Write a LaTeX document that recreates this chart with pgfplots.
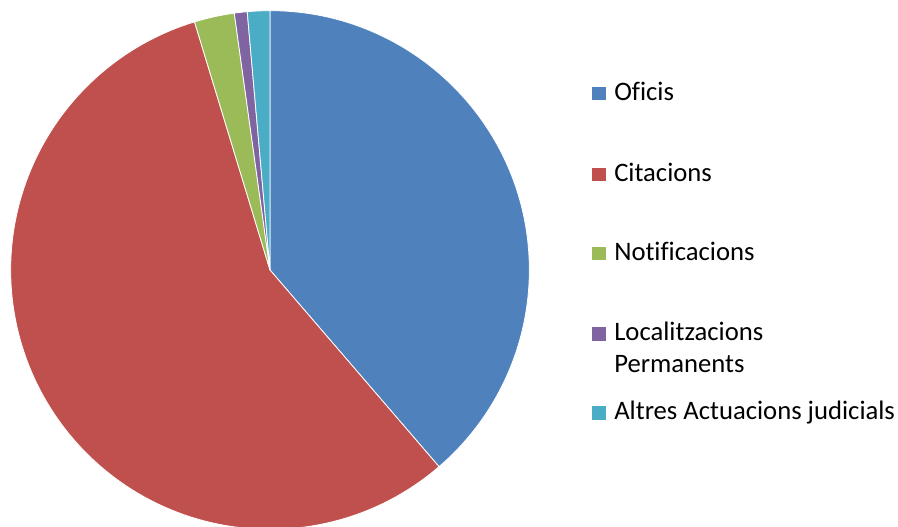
\documentclass[border=0pt]{standalone}
\usepackage{pgfplots}
\pgfplotsset{compat=1.18}
\usepackage{fontspec}
\setmainfont[Ligatures={NoCommon}]{Carlito}
\definecolor{cOficis}{HTML}{4F81BD}
\definecolor{cCitacions}{HTML}{C0504D}
\definecolor{cNotif}{HTML}{9BBB59}
\definecolor{cLocal}{HTML}{8064A2}
\definecolor{cAltres}{HTML}{4BACC6}
% shares (percent) of each category
\def\vA{38.7}% Oficis
\def\vB{56.6}% Citacions
\def\vC{2.5}%  Notificacions
\def\vD{0.8}%  Localitzacions Permanents
\def\vE{1.4}%  Altres Actuacions judicials
\begin{document}
\begin{tikzpicture}
\begin{axis}[
  scale only axis,
  width=673.5pt, height=395.25pt,
  xmin=0, xmax=898, ymin=0, ymax=527,
  hide axis,
  anchor=south west, at={(0,0)},
]
\def\R{194.5pt}
\pgfmathsetmacro\aA{90}
\pgfmathsetmacro\aB{90-3.6*\vA}
\pgfmathsetmacro\aC{\aB-3.6*\vB}
\pgfmathsetmacro\aD{\aC-3.6*\vC}
\pgfmathsetmacro\aE{\aD-3.6*\vD}
\pgfmathsetmacro\aF{\aE-3.6*\vE}
\edef\slices{%
\noexpand\filldraw[fill=cOficis,draw=white,line width=0.6pt] (axis cs:270,257) -- ++(\aA:\R) arc[start angle=\aA, end angle=\aB, radius=\R] -- cycle;
\noexpand\filldraw[fill=cCitacions,draw=white,line width=0.6pt] (axis cs:270,257) -- ++(\aB:\R) arc[start angle=\aB, end angle=\aC, radius=\R] -- cycle;
\noexpand\filldraw[fill=cNotif,draw=white,line width=0.6pt] (axis cs:270,257) -- ++(\aC:\R) arc[start angle=\aC, end angle=\aD, radius=\R] -- cycle;
\noexpand\filldraw[fill=cLocal,draw=white,line width=0.6pt] (axis cs:270,257) -- ++(\aD:\R) arc[start angle=\aD, end angle=\aE, radius=\R] -- cycle;
\noexpand\filldraw[fill=cAltres,draw=white,line width=0.6pt] (axis cs:270,257) -- ++(\aE:\R) arc[start angle=\aE, end angle=\aF, radius=\R] -- cycle;
}
\slices
% legend
\fill[cOficis]    (axis cs:592,{527-100.5}) rectangle (axis cs:606,{527-87});
\fill[cCitacions] (axis cs:592,{527-181.5}) rectangle (axis cs:606,{527-168});
\fill[cNotif]     (axis cs:592,{527-260.5}) rectangle (axis cs:606,{527-247});
\fill[cLocal]     (axis cs:592,{527-341})   rectangle (axis cs:606,{527-327.5});
\fill[cAltres]    (axis cs:592,{527-420})   rectangle (axis cs:606,{527-406.5});
\begin{scope}[every node/.style={anchor=base west, inner sep=0pt, font=\fontsize{20}{24}\selectfont}]
\node at (axis cs:614,{527-100.5}) {Oficis};
\node at (axis cs:614,{527-181.5}) {Citacions};
\node at (axis cs:614,{527-260.5}) {Notificacions};
\node at (axis cs:614,{527-341}) {Localitzacions};
\node at (axis cs:614,{527-373}) {Permanents};
\node at (axis cs:614,{527-420}) {Altres Actuacions judicials};
\end{scope}
\end{axis}
\useasboundingbox (0,0) rectangle (673.5pt,395.25pt);
\end{tikzpicture}
\end{document}
